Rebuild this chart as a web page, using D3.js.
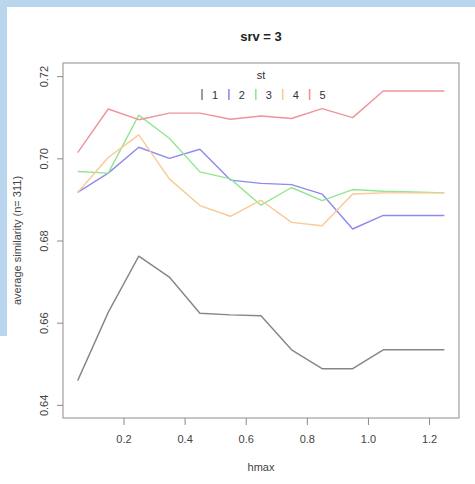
<!DOCTYPE html>
<html>
<head>
<meta charset="utf-8">
<script src="https://cdn.jsdelivr.net/npm/d3@7/dist/d3.min.js"></script>
<style>
  body { margin: 0; background: #fff; }
  svg { display: block; font-family: "Liberation Sans", Arial, sans-serif; }
</style>
</head>
<body>
<div id="chart"></div>
<script>
// hmax values on the x axis
var hmax = [0.05, 0.15, 0.25, 0.35, 0.45, 0.55, 0.65, 0.75, 0.85, 0.95, 1.05, 1.15, 1.25];

// average similarity, one array per st
var st1 = [0.6459, 0.6625, 0.6762, 0.6711, 0.6623, 0.6619, 0.6617, 0.6534, 0.6488, 0.6488, 0.6534, 0.6534, 0.6534];
var st2 = [0.6917, 0.6964, 0.7027, 0.7000, 0.7022, 0.6947, 0.6939, 0.6936, 0.6913, 0.6828, 0.6861, 0.6861, 0.6861];
var st3 = [0.6968, 0.6964, 0.7105, 0.7049, 0.6967, 0.6950, 0.6886, 0.6929, 0.6897, 0.6924, 0.6920, 0.6918, 0.6916];
var st4 = [0.6917, 0.7002, 0.7057, 0.6950, 0.6885, 0.6859, 0.6898, 0.6844, 0.6836, 0.6913, 0.6916, 0.6916, 0.6916];
var st5 = [0.7014, 0.7120, 0.7094, 0.7110, 0.7110, 0.7095, 0.7103, 0.7097, 0.7121, 0.7099, 0.7164, 0.7164, 0.7164];

var stNames = ['1', '2', '3', '4', '5'];
var xTicks = [0.2, 0.4, 0.6, 0.8, 1.0, 1.2];
var yTicks = [0.64, 0.66, 0.68, 0.70, 0.72];

var series = [st1, st2, st3, st4, st5];
var colors = ['#858585', '#8e8aee', '#92e692', '#f8ca94', '#ef939b'];

var W = 475, H = 484,
    box = {left: 63, right: 459, top: 63, bottom: 418};

var svg = d3.select('#chart').append('svg')
    .attr('width', W)
    .attr('height', H);

// light blue frame strips from the screenshot
svg.append('rect').attr('x', 0).attr('y', 0).attr('width', W).attr('height', 7).attr('fill', '#bad6ef');
svg.append('rect').attr('x', 0).attr('y', 0).attr('width', 7).attr('height', 336).attr('fill', '#bad6ef');

// R style 4% padding on both axes
function padded(lo, hi) {
    var d = (hi - lo) * 0.04;
    return [lo - d, hi + d];
}

var x = d3.scaleLinear()
    .domain(padded(d3.min(hmax), d3.max(hmax)))
    .range([box.left, box.right]);

var y = d3.scaleLinear()
    .domain(padded(0.64, 0.72))
    .range([box.bottom, box.top]);

svg.append('rect')
    .attr('x', box.left).attr('y', box.top)
    .attr('width', box.right - box.left)
    .attr('height', box.bottom - box.top)
    .attr('fill', 'none')
    .attr('stroke', '#a0a0a0')
    .attr('stroke-width', 1.2);

var xAxis = svg.append('g')
    .attr('transform', 'translate(0,' + box.bottom + ')')
    .call(d3.axisBottom(x).tickValues(xTicks).tickSize(7).tickSizeOuter(0).tickPadding(10)
        .tickFormat(d3.format('.1f')));
xAxis.select('.domain').remove();

var yAxis = svg.append('g')
    .attr('transform', 'translate(' + box.left + ',0)')
    .call(d3.axisLeft(y).tickValues(yTicks).tickSize(6).tickSizeOuter(0)
        .tickFormat(d3.format('.2f')));
yAxis.select('.domain').remove();
yAxis.selectAll('.tick text')
    .attr('x', 0).attr('dy', 0)
    .attr('text-anchor', 'middle')
    .attr('transform', 'translate(-19,0) rotate(-90)')
    .attr('dominant-baseline', 'central');

svg.selectAll('.tick line').attr('stroke', '#8a8a8a');
svg.selectAll('.tick text')
    .attr('fill', '#444')
    .style('font-size', '11px');

var line = d3.line()
    .x(function(d, i) { return x(hmax[i]); })
    .y(function(d) { return y(d); });

svg.selectAll('path.series')
    .data(series)
    .enter().append('path')
    .attr('class', 'series')
    .attr('d', line)
    .attr('fill', 'none')
    .attr('stroke', function(d, i) { return colors[i]; })
    .attr('stroke-width', 1.4)
    .attr('stroke-linejoin', 'round');

// title and axis labels
var cx = (box.left + box.right) / 2;
svg.append('text')
    .attr('x', cx).attr('y', 41)
    .attr('text-anchor', 'middle')
    .style('font-size', '13px').style('font-weight', 'bold')
    .attr('fill', '#222')
    .text('srv = 3');

svg.append('text')
    .attr('x', cx).attr('y', 471)
    .attr('text-anchor', 'middle')
    .style('font-size', '11px')
    .attr('fill', '#444')
    .text('hmax');

svg.append('text')
    .attr('transform', 'translate(21,' + ((box.top + box.bottom) / 2) + ') rotate(-90)')
    .attr('text-anchor', 'middle')
    .style('font-size', '11px')
    .attr('fill', '#444')
    .text('average similarity (n= 311)');

// legend
var legend = svg.append('g');
legend.append('text')
    .attr('x', cx).attr('y', 79)
    .attr('text-anchor', 'middle')
    .style('font-size', '11px')
    .attr('fill', '#333')
    .text('st');

var item = legend.selectAll('g.item')
    .data(stNames)
    .enter().append('g')
    .attr('class', 'item')
    .attr('transform', function(d, i) { return 'translate(' + (202 + i * 26.9) + ',94.5)'; });

item.append('line')
    .attr('x1', 0).attr('x2', 0)
    .attr('y1', -5.5).attr('y2', 5.5)
    .attr('stroke', function(d, i) { return colors[i]; })
    .attr('stroke-width', 1.6);

item.append('text')
    .attr('x', 13).attr('y', 0)
    .attr('text-anchor', 'middle')
    .attr('dominant-baseline', 'central')
    .style('font-size', '11px')
    .attr('fill', '#333')
    .text(function(d) { return d; });
</script>
</body>
</html>
